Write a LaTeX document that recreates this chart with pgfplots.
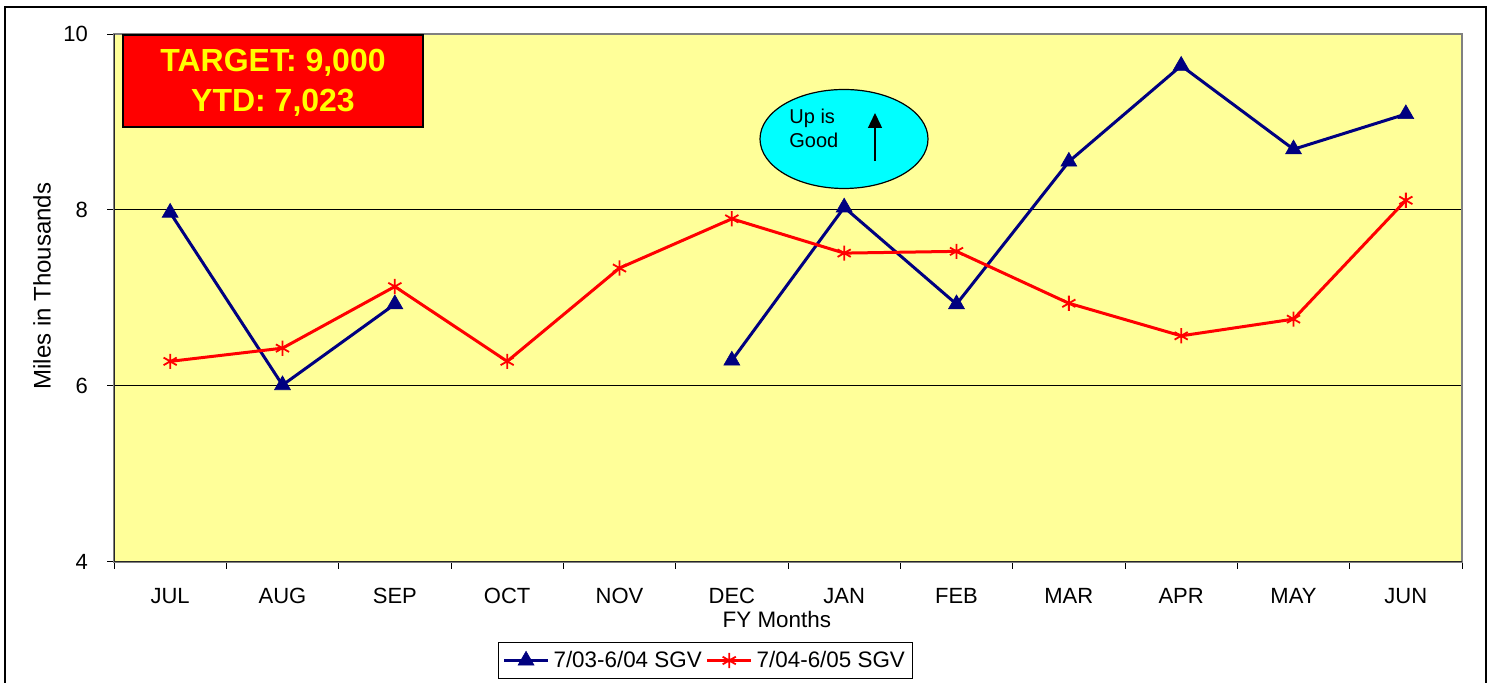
\documentclass[border=0pt]{standalone}
\usepackage{pgfplots}
\pgfplotsset{compat=1.18}
\usepackage{pgfplotstable}
\usepackage{fontspec}
\setmainfont{Liberation Sans}
\usetikzlibrary{arrows.meta,shapes.geometric}
\definecolor{plotbg}{HTML}{FFFF99}
\definecolor{navy}{HTML}{000080}
\definecolor{bordergray}{HTML}{808080}
\definecolor{targetred}{HTML}{FF0000}
\definecolor{targetyellow}{HTML}{FFFF00}
\definecolor{ellcyan}{HTML}{00FFFF}
\pgfplotstableread{
x s1 s2
0 7.97 6.28
1 6.01 6.43
2 6.93 7.13
3 nan 6.28
4 nan 7.34
5 6.29 7.90
6 8.03 7.51
7 6.93 7.53
8 8.55 6.94
9 9.64 6.57
10 8.69 6.76
11 9.09 8.11
}\datatable
\begin{document}
\begin{tikzpicture}
\useasboundingbox (0,0) rectangle (745.5pt,341.5pt);
\draw[line width=1pt,black] (2.5pt,-3pt) rectangle (743pt,338pt);
\begin{axis}[
  at={(57pt,60.5pt)}, anchor=south west,
  scale only axis, width=674pt, height=264pt,
  xmin=-0.5, xmax=11.5, ymin=4, ymax=10,
  /pgf/number format/assume math mode=true,
  axis background/.style={fill=plotbg},
  axis line style={bordergray, line width=0.6pt},
  xtick={0,...,11},
  xticklabels={JUL,AUG,SEP,OCT,NOV,DEC,JAN,FEB,MAR,APR,MAY,JUN},
  major x tick style={draw=none},
  minor xtick={-0.5,0.5,...,11.5},
  minor x tick style={black, line width=0.5pt},
  minor tick length=3.5pt,
  tick align=outside,
  xtick pos=bottom, ytick pos=left,
  ytick={4,6,8,10},
  major y tick style={black, line width=0.5pt},
  major tick length=3.5pt,
  ymajorgrids, grid style={black, line width=0.5pt},
  xticklabel style={font=\fontsize{11}{13}\selectfont, anchor=base, yshift=-17.5pt},
  yticklabel style={font=\fontsize{11}{13}\selectfont, anchor=east, xshift=-6pt},
  xlabel={FY Months},
  xlabel style={font=\fontsize{11.2}{13}\selectfont, at={(0.4917,0)}, anchor=base, yshift=-33pt},
  ylabel={Miles in Thousands},
  ylabel style={font=\fontsize{12}{14}\selectfont, at={(axis description cs:-0.0534,0.5227)}, anchor=center},
  unbounded coords=jump,
  legend columns=2,
  legend style={at={(0.2849,-0.1866)}, anchor=west, draw=black, line width=0.5pt,
    font=\fontsize{11.2}{13}\selectfont, inner sep=2pt,
    /tikz/every even column/.append style={column sep=0pt}},
  legend image code/.code={\draw[#1] (0pt,0pt) -- (22pt,0pt); \draw[#1, mark repeat=1] plot coordinates {(11pt,0pt)};},
]
\addplot[navy, line width=1.5pt, mark=triangle*, mark size=4.6pt, mark options={fill=navy, line width=0.3pt}] table[x=x,y=s1] {\datatable};
\addlegendentry{7/03-6/04 SGV}
\addplot[targetred, line width=1.5pt, mark=asterisk, mark size=3.8pt, mark options={line width=0.9pt}] table[x=x,y=s2] {\datatable};
\addlegendentry{7/04-6/05 SGV}
\draw[black!85, line width=0.7pt] (rel axis cs:0,0) -- (rel axis cs:0,1);
\draw[black!85, line width=0.7pt] (rel axis cs:0,0) -- (rel axis cs:1,0);
\end{axis}
% target box
\draw[fill=targetred, draw=black, line width=1pt] (61.5pt,278pt) rectangle (211.5pt,324pt);
\node[anchor=base, text=targetyellow, font=\fontsize{16}{18}\selectfont\bfseries, inner sep=0pt] at (136.5pt,305.5pt) {TARGET: 9,000};
\node[anchor=base, text=targetyellow, font=\fontsize{16}{18}\selectfont\bfseries, inner sep=0pt] at (136.5pt,285.5pt) {YTD: 7,023};
% ellipse
\draw[fill=ellcyan, draw=black, line width=0.6pt] (422pt,272pt) ellipse [x radius=42pt, y radius=24.75pt];
\node[anchor=base west, font=\fontsize{10}{12}\selectfont, inner sep=0pt] at (394.5pt,279.5pt) {Up is};
\node[anchor=base west, font=\fontsize{10}{12}\selectfont, inner sep=0pt] at (394.5pt,267.5pt) {Good};
\draw[line width=0.7pt, -{Triangle[width=7pt,length=7.5pt]}] (437.5pt,261pt) -- (437.5pt,285pt);
\end{tikzpicture}
\end{document}
